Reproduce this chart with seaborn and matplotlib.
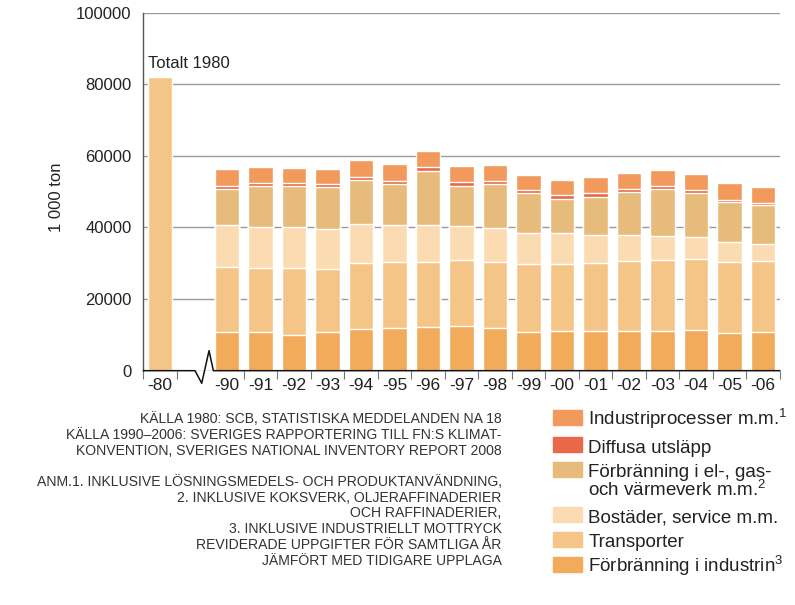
import numpy as np
import pandas as pd
import seaborn as sns
import matplotlib.pyplot as plt
from matplotlib.patches import Rectangle
import matplotlib.transforms as mtransforms

# data (1 000 ton)
years = ["-90", "-91", "-92", "-93", "-94", "-95", "-96", "-97", "-98",
         "-99", "-00", "-01", "-02", "-03", "-04", "-05", "-06"]
industrin = [10900, 10800, 10000, 10700, 11600, 12000, 12100, 12500, 12000,
             10900, 11200, 11200, 11200, 11200, 11300, 10600, 10700]
transporter = [18000, 17900, 18600, 17800, 18500, 18500, 18300, 18400, 18500,
               19000, 18600, 18900, 19400, 19600, 19800, 19800, 19900]
bostader = [11700, 11500, 11600, 11000, 10800, 10100, 10200, 9500, 9400,
            8700, 8800, 7700, 7200, 6800, 6200, 5500, 4700]
elverk = [10100, 11300, 11400, 11700, 12300, 11500, 15300, 11300, 12300,
          11000, 9400, 10800, 12100, 13200, 12300, 11100, 10900]
diffusa = [900, 1000, 900, 900, 1000, 1000, 950, 950, 900,
           900, 1000, 900, 900, 800, 800, 800, 750]
industriproc = [4650, 4400, 4150, 4150, 4600, 4700, 4500, 4400, 4350,
                4150, 4300, 4550, 4450, 4550, 4650, 4650, 4400]
total_1980 = 82000

layer_names = ["Förbränning i industrin$^{3}$", "Transporter", "Bostäder, service m.m.",
               "Förbränning i el-, gas-\noch värmeverk m.m.$^{2}$", "Diffusa utsläpp",
               "Industriprocesser m.m.$^{1}$"]
colors = ["#F1AB5B", "#F5C587", "#FBDBB1", "#E7BB7B", "#E9684A", "#F19A5B"]

order = ["-80", " "] + years

sns.set_style("white")
plt.rcParams["font.family"] = ["Liberation Sans", "DejaVu Sans"]
plt.rcParams["mathtext.fontset"] = "custom"
plt.rcParams["mathtext.rm"] = "Liberation Sans"
plt.rcParams["mathtext.it"] = "Liberation Sans"
plt.rcParams["mathtext.default"] = "regular"
plt.rcParams["text.color"] = "#222222"

fig = plt.figure(figsize=(7.95, 6.05), dpi=100)
ax = fig.add_axes([0.1803, 0.3873, 0.8008, 0.5917])

df = pd.DataFrame({"year": years})
layers = [industrin, transporter, bostader, elverk, diffusa, industriproc]
cum = np.cumsum(np.array(layers), axis=0)

# draw cumulative sums from the top layer down so they stack visually
for i in range(len(layers) - 1, -1, -1):
    df["v"] = cum[i]
    sns.barplot(data=df, x="year", y="v", order=order, color=colors[i],
                saturation=1, width=0.73, errorbar=None, ax=ax, zorder=2)

sns.barplot(x=["-80"], y=[total_1980], order=order, color=colors[1],
            saturation=1, width=0.73, errorbar=None, ax=ax, zorder=2)

ax.set_xlim(-0.5, len(order) - 0.5)
ax.set_ylim(0, 100000)
ax.set_yticks(range(0, 100001, 20000))
ax.set_yticklabels([str(v) for v in range(0, 100001, 20000)])
ax.yaxis.grid(True, color="#9a9a9a", lw=1)
ax.set_axisbelow(True)

ax.set_xticks(range(len(order)))
ax.set_xticklabels([o if o.strip() else "" for o in order])
ax.tick_params(axis="x", which="major", length=0, pad=5,
               labelsize=12.5, labelcolor="#222222")
ax.tick_params(axis="y", length=0, pad=8.5, labelsize=12, labelcolor="#222222")

# small separator ticks between the year categories
bounds = [-0.5, 0.5] + [k + 0.5 for k in range(2, len(order))]
trans = mtransforms.blended_transform_factory(ax.transData, ax.transAxes)
ax.vlines(bounds, -0.022, 0, transform=trans, color="#777777", lw=0.8,
          clip_on=False, zorder=4)

ax.set_xlabel("")
ax.set_ylabel("1 000 ton", fontsize=12, color="#222222")
ax.yaxis.set_label_coords(-0.125, 0.485)

for s in ["top", "right", "bottom"]:
    ax.spines[s].set_visible(False)
ax.spines["left"].set_color("#555555")
ax.spines["left"].set_linewidth(1)

# broken x axis line
ax.plot([0, 0.0812, 0.0917, 0.1032, 0.11, 1], [0, 0, -0.0352, 0.0559, 0, 0],
        transform=ax.transAxes, color="#111111", lw=1.1, clip_on=False, zorder=5)

ax.annotate("Totalt 1980", xy=(-0.365, total_1980), xytext=(0, 6.5),
            textcoords="offset points", ha="left", va="baseline", fontsize=12)

# source notes
W, H = 795, 605
notes = [
    ("KÄLLA 1980: SCB, STATISTISKA MEDDELANDEN NA 18", 423.3),
    ("KÄLLA 1990–2006: SVERIGES RAPPORTERING TILL FN:S KLIMAT-", 439.3),
    ("KONVENTION, SVERIGES NATIONAL INVENTORY REPORT 2008", 455.0),
    ("ANM.1. INKLUSIVE LÖSNINGSMEDELS- OCH PRODUKTANVÄNDNING,", 485.7),
    ("2. INKLUSIVE KOKSVERK, OLJERAFFINADERIER", 501.7),
    ("OCH RAFFINADERIER,", 517.3),
    ("3. INKLUSIVE INDUSTRIELLT MOTTRYCK", 533.3),
    ("REVIDERADE UPPGIFTER FÖR SAMTLIGA ÅR", 549.3),
    ("JÄMFÖRT MED TIDIGARE UPPLAGA", 565.0),
]
for txt, yb in notes:
    fig.text(501.7 / W, 1 - yb / H, txt, ha="right", va="baseline",
             fontsize=10.1, color="#333333")

# legend (top to bottom)
leg_rows = [(5, 417.5, 425.0), (4, 444.5, 452.7), (3, 469.0, 477.3),
            (2, 514.5, 522.7), (1, 539.0, 546.7), (0, 564.0, 571.7)]
for idx, yc, yb in leg_rows:
    fig.patches.append(Rectangle((553 / W, 1 - (yc + 7.5) / H), 29 / W, 15 / H,
                                 transform=fig.transFigure, color=colors[idx]))
    lines = layer_names[idx].split("\n")
    for j, ln in enumerate(lines):
        fig.text(588.3 / W, 1 - (yb + j * 19) / H, ln, ha="left", va="baseline",
                 fontsize=13.5, color="#222222")

fig.savefig("out.png", dpi=100)
